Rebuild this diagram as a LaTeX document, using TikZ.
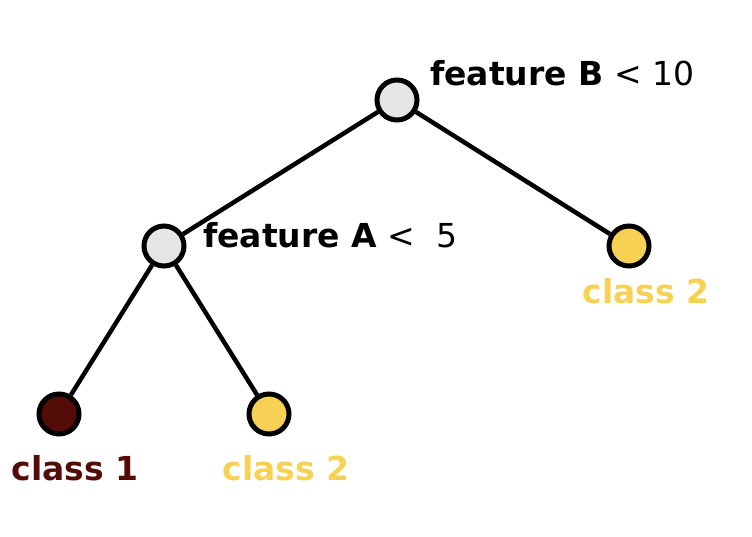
\documentclass[tikz,border=0pt]{standalone}
\usepackage{fontspec}
\setmainfont{DejaVu Sans}
\definecolor{darkred}{HTML}{540C08}
\definecolor{gold}{HTML}{F7D154}
\definecolor{lightgrey}{HTML}{E6E6E6}
\begin{document}
\begin{tikzpicture}[x=1pt,y=-1pt,
  tnode/.style={circle,draw=black,line width=5pt,minimum size=40pt,inner sep=0pt},
  edge/.style={line width=4.5pt,black},
  lbl/.style={font=\fontsize{33}{34}\selectfont,inner sep=0pt},
  clbl/.style={font=\fontsize{33}{34}\selectfont\bfseries,inner sep=0pt,anchor=base}]
\useasboundingbox (0,0) rectangle (752,537);
\node[tnode,fill=lightgrey] (root) at (397,100) {};
\node[tnode,fill=lightgrey] (A) at (164,246) {};
\node[tnode,fill=gold] (R) at (629,246) {};
\node[tnode,fill=darkred] (L1) at (59,414) {};
\node[tnode,fill=gold] (L2) at (269,414) {};
\draw[edge] (root) -- (A);
\draw[edge] (root) -- (R);
\draw[edge] (A) -- (L1);
\draw[edge] (A) -- (L2);
\node[lbl,anchor=base west] (tB) at (430,86) {\textbf{feature B} < 10};
\node[lbl,anchor=base west] (tA) at (203,248) {\textbf{feature A} <\ \ 5};
\node[clbl,text=gold] (c2r) at (646,304) {class 2};
\node[clbl,text=darkred] (c1) at (75,480) {class 1};
\node[clbl,text=gold] (c2l) at (286,480) {class 2};
\end{tikzpicture}
\end{document}
